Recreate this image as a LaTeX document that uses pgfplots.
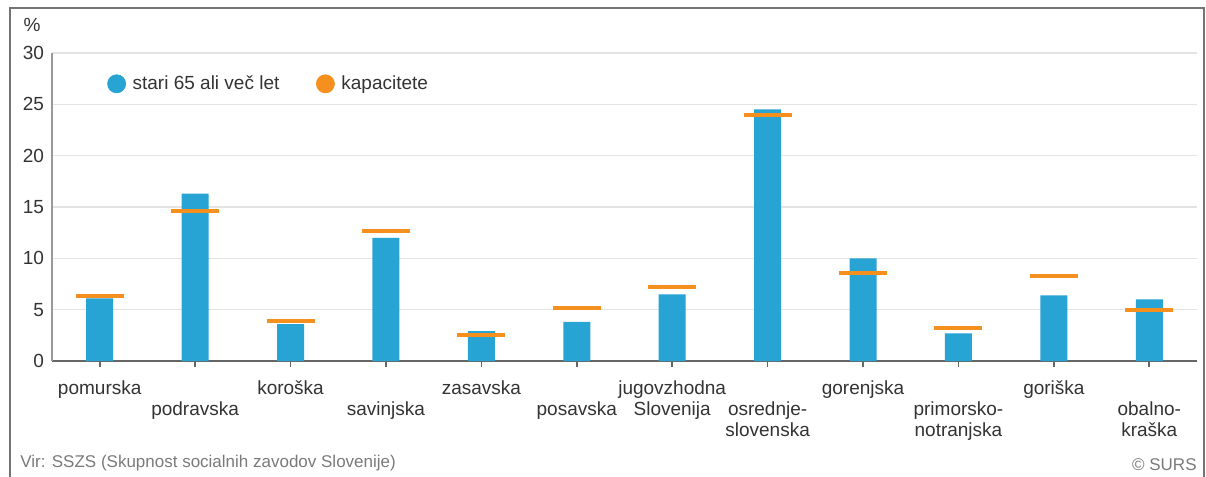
\documentclass[border=0pt]{standalone}
\usepackage{fontspec}
\setmainfont{Liberation Sans}
\usepackage{pgfplots}
\pgfplotsset{compat=1.18}
\definecolor{barblue}{HTML}{27A3D4}
\definecolor{capor}{HTML}{F5901E}
\definecolor{gridg}{HTML}{E3E3E3}
\definecolor{txt}{HTML}{333333}
\definecolor{srcg}{HTML}{7A7A7A}
\begin{document}
\begin{tikzpicture}[x=0.5pt,y=-0.5pt]
\useasboundingbox (0,0) rectangle (1206,477);
\draw[color=black!55, line width=1pt] (10,482) -- (10,8) -- (1204,8) -- (1204,482);
\node[anchor=base, font=\fontsize{9.5}{11}\selectfont, text=txt] at (32,31) {\%};
\begin{axis}[
  at={(26pt,-180.5pt)}, anchor=south west,
  scale only axis, width=572.5pt, height=154pt,
  xmin=-0.5, xmax=11.5, ymin=0, ymax=30,
  axis x line=bottom, axis y line=left,
  axis line style={-},
  x axis line style={draw=black!60, line width=1pt},
  y axis line style={draw=black!40, line width=0.8pt},
  ytick={0,5,10,15,20,25,30},
  ymajorgrids, grid style={gridg, line width=0.8pt},
  ytick style={draw=none},
  yticklabel style={font=\fontsize{9.5}{11}\selectfont, text=txt, xshift=2.5pt},
  /pgf/number format/assume math mode=true,
  xtick={0,...,11},
  tick align=outside,
  xtick style={draw=black!60, line width=0.8pt},
  major tick length=3pt,
  xticklabels={{\strut pomurska},{\strut\\podravska},{\strut koroška},{\strut\\savinjska},{\strut zasavska},{\strut\\posavska},{\strut jugovzhodna\\Slovenija},{\strut\\osrednje-\\slovenska},{\strut gorenjska},{\strut\\primorsko-\\notranjska},{\strut goriška},{\strut\\obalno-\\kraška}},
  xticklabel style={font=\fontsize{9.5}{10.5}\selectfont, align=center, anchor=north, text=txt, yshift=-3pt},
  legend style={draw=none, fill=none, at={(rel axis cs:0.043,0.9)}, anchor=west,
    legend columns=2, font=\fontsize{9.5}{11}\selectfont, text=txt,
    /tikz/every odd column/.append style={column sep=1.5pt},
    /tikz/every even column/.append style={column sep=16.5pt}},
  legend cell align=left,
]
\addplot[ybar, bar width=13.5pt, fill=barblue, draw=none, forget plot] coordinates {
(0,6.1) (1,16.3) (2,3.6) (3,12.0) (4,2.9) (5,3.8) (6,6.5) (7,24.5) (8,10.0) (9,2.7) (10,6.4) (11,6.0)};
\addplot[only marks, mark=-, mark size=12pt, color=capor, mark options={line width=2pt}, forget plot] coordinates {
(0,6.3) (1,14.6) (2,3.9) (3,12.7) (4,2.5) (5,5.2) (6,7.2) (7,24.0) (8,8.6) (9,3.2) (10,8.3) (11,5.0)};
\addlegendimage{only marks, mark=*, mark size=4.5pt, color=barblue}
\addlegendentry{stari 65 ali več let}
\addlegendimage{only marks, mark=*, mark size=4.5pt, color=capor}
\addlegendentry{kapacitete}
\end{axis}
\node[anchor=base west, inner sep=0pt, font=\fontsize{8.5}{10}\selectfont, text=srcg] at (20,467) {Vir: SSZS (Skupnost socialnih zavodov Slovenije)};
\node[anchor=base east, inner sep=0pt, font=\fontsize{8.5}{10}\selectfont, text=srcg] at (1197,470) {© SURS};
\end{tikzpicture}
\end{document}
